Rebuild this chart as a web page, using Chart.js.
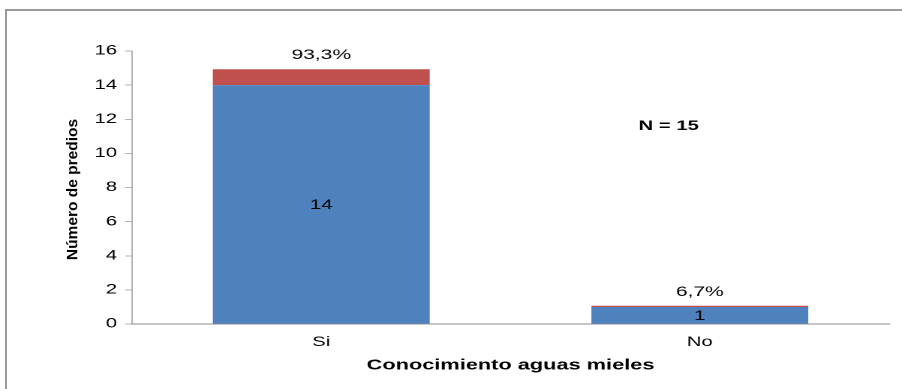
<!DOCTYPE html>
<html>
<head>
<meta charset="utf-8">
<script src="https://cdn.jsdelivr.net/npm/chart.js@4/dist/chart.umd.min.js"></script>
<style>
  html, body { margin: 0; padding: 0; background: #fff; overflow: hidden; }
  #wrap { position: relative; width: 902px; height: 389px; overflow: hidden; }
  #frame { position: absolute; left: 5px; top: 9px; width: 1000px; height: 1000px;
           border-left: 2px solid #9a9a9a; border-top: 2px solid #9a9a9a; }
  #stretch { position: absolute; left: 0; top: 0; width: 601px; height: 389px;
             transform-origin: 0 0; transform: scaleX(1.5008); }
</style>
</head>
<body>
<div id="wrap">
  <div id="frame"></div>
  <div id="stretch"><canvas id="chart" width="601" height="389"></canvas></div>
</div>
<script>
const categories = ['Si', 'No'];
const predios = [14, 1];
const porcentaje = [0.933, 0.067];
const porcentajeLabels = ['93,3%', '6,7%'];
const yMin = 0, yMax = 16, yStep = 2;
const nLabel = 'N = 15';
const xTitle = 'Conocimiento aguas mieles';
const yTitle = 'Número de predios';

// the original is stretched sideways, so the canvas is drawn narrow and widened by css
const S = 902 / 601;
const FONT = "'Liberation Sans', Arial, sans-serif";

const labelsPlugin = {
    id: 'labels',
    afterDraw(chart) {
        const ctx = chart.ctx;
        const area = chart.chartArea;
        const blue = chart.getDatasetMeta(0).data;
        const red = chart.getDatasetMeta(1).data;
        ctx.save();
        ctx.fillStyle = '#000';
        ctx.textAlign = 'center';

        // values inside the blue bars
        ctx.font = `13.5px ${FONT}`;
        ctx.textBaseline = 'middle';
        blue.forEach((bar, i) => {
            ctx.fillText(String(predios[i]), bar.x, (bar.y + bar.base) / 2 + 1);
        });

        // percentages above the stack
        ctx.font = `14px ${FONT}`;
        ctx.textBaseline = 'alphabetic';
        red.forEach((bar, i) => {
            ctx.fillText(porcentajeLabels[i], bar.x, bar.y - 10);
        });

        // N = 15
        ctx.font = `bold 13.5px ${FONT}`;
        ctx.textBaseline = 'middle';
        ctx.fillText(nLabel, chart.scales.x.getPixelForValue(0.918), chart.scales.y.getPixelForValue(11.6));

        // y title, drawn unstretched
        ctx.font = `bold 15.5px ${FONT}`;
        ctx.translate(73 / S, (area.top + area.bottom) / 2 + 2);
        ctx.scale(1 / S, 1);
        ctx.rotate(-Math.PI / 2);
        ctx.fillText(yTitle, 0, 0);
        ctx.restore();
    }
};

new Chart(
    document.getElementById('chart'),
    {
        type: 'bar',
        plugins: [labelsPlugin],
        data: {
            labels: categories,
            datasets: [
                {
                    label: 'Número de predios',
                    data: predios,
                    backgroundColor: '#4f81bd',
                    categoryPercentage: 1,
                    barPercentage: 0.573
                },
                {
                    label: 'Porcentaje',
                    data: porcentaje,
                    backgroundColor: '#c0504d',
                    categoryPercentage: 1,
                    barPercentage: 0.573
                }
            ]
        },
        options: {
            responsive: false,
            devicePixelRatio: 2,
            animation: false,
            layout: { padding: { top: 51, left: 0, right: 8.6, bottom: 0 } },
            plugins: {
                legend: { display: false },
                tooltip: { enabled: false }
            },
            scales: {
                x: {
                    stacked: true,
                    offset: true,
                    grid: { display: false, drawTicks: false },
                    border: { color: '#8c8c8c', width: 1 },
                    ticks: {
                        color: '#000',
                        padding: 10,
                        font: { family: FONT, size: 13.5 }
                    },
                    title: {
                        display: true,
                        text: xTitle,
                        color: '#000',
                        padding: { top: 0, bottom: 14.6 },
                        font: { family: FONT, size: 14.5, weight: 'bold' }
                    },
                    afterFit: scale => { scale.height = 65; }
                },
                y: {
                    stacked: true,
                    min: yMin,
                    max: yMax,
                    grid: {
                        drawOnChartArea: false,
                        tickLength: 7 / S,
                        color: '#8c8c8c',
                        lineWidth: 1 / S
                    },
                    border: { color: '#8c8c8c', width: 1 / S },
                    ticks: {
                        stepSize: yStep,
                        color: '#000',
                        padding: 5.3,
                        font: { family: FONT, size: 13.5 }
                    },
                    afterFit: scale => { scale.width = 132 / S; }
                }
            }
        }
    }
);
</script>
</body>
</html>
